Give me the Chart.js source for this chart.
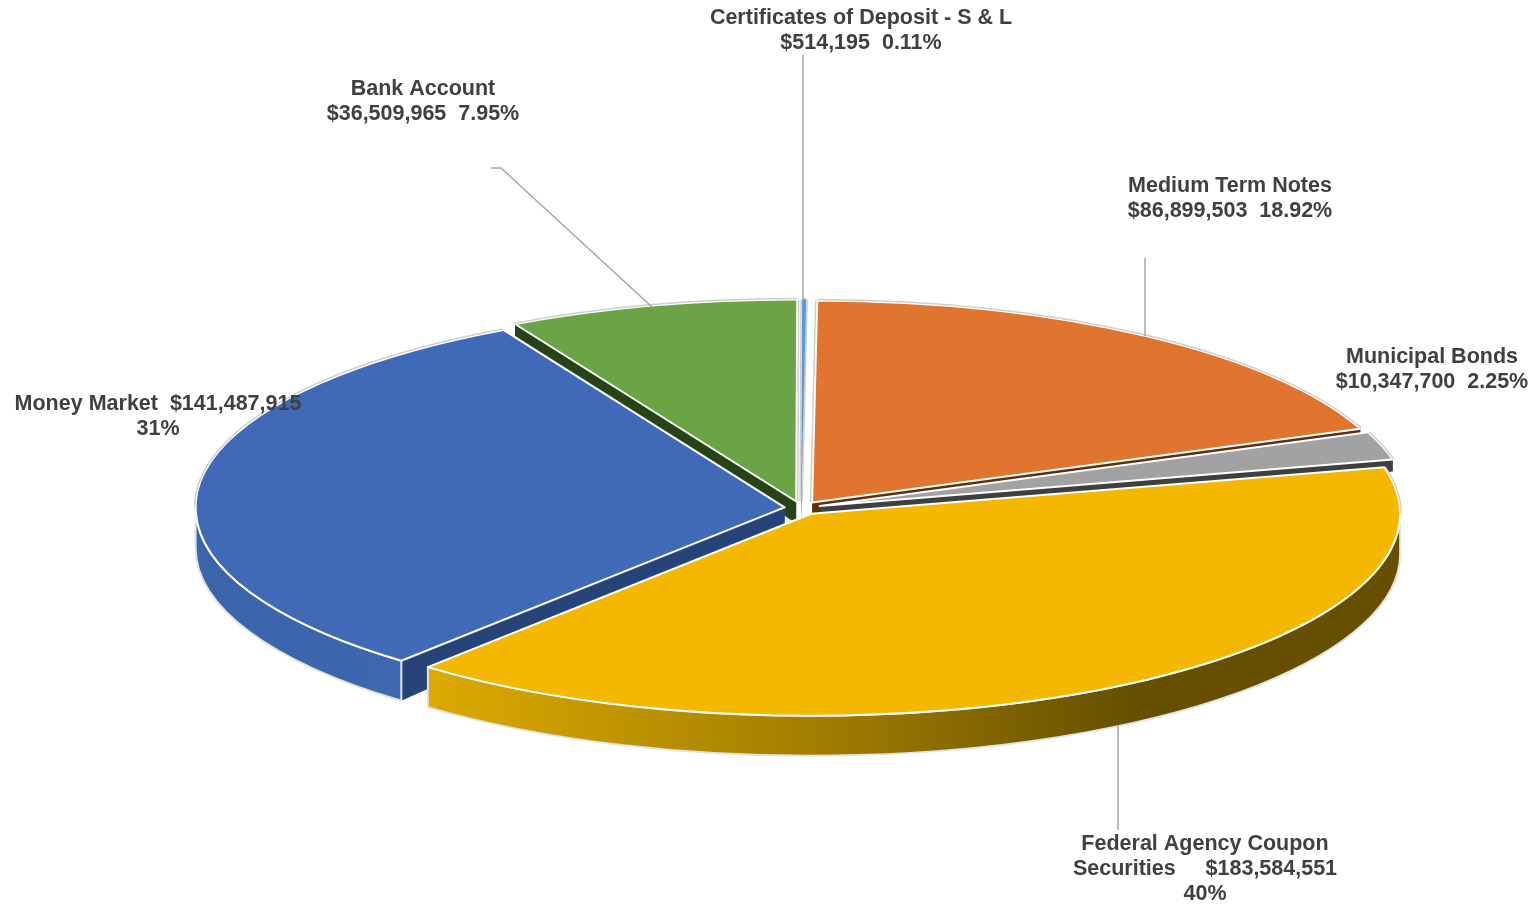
<!DOCTYPE html>
<html>
<head>
<meta charset="utf-8">
<title>Portfolio by type</title>
<script src="https://cdn.jsdelivr.net/npm/chart.js@4"></script>
<style>
    html, body { margin: 0; padding: 0; background: #fff; overflow: hidden; }
    canvas { display: block; }
</style>
</head>
<body>
<canvas id="portfolioChart" width="1536" height="907"></canvas>
<script>
// clockwise from the top of the pie
const categories = ['Medium Term Notes', 'Municipal Bonds', 'Federal Agency Coupon Securities', 'Money Market', 'Bank Account', 'Certificates of Deposit - S & L'];
const amounts = [86899503, 10347700, 183584551, 141487915, 36509965, 514195];
const shares = ['18.92%', '2.25%', '40%', '31%', '7.95%', '0.11%'];

const topColors = ['#E0752F', '#A2A2A2', '#F4B800', '#406AB8', '#6AA444', '#5B9BD5'];
const faceColors = ['#5A2E10', '#3F3F3F', '#665000', '#264478', '#264417', '#2E5F8F'];
const rimStops = {
    2: [[0, '#DCAA00'], [0.4, '#A27E00'], [0.72, '#665000'], [1, '#665000']],
    3: [[0, '#3B65AA'], [1, '#3D67AE']]
};

// order the slices are painted in, back to front
const paintOrder = [5, 4, 0, 1, 3, 2];

const RX = 589;
const RY = 202;
const DEPTH_FRONT = 40;
const DEPTH_BACK = 12;
const DEPTH_APEX = 22;

function money(i) {
    return '$' + amounts[i].toLocaleString('en-US');
}

const labelBlocks = [
    { x: 1230, y: 186, lines: [categories[0], money(0) + '  ' + shares[0]] },
    { x: 1432, y: 357, lines: [categories[1], money(1) + '  ' + shares[1]] },
    { x: 1205, y: 844, lines: ['Federal Agency Coupon', 'Securities     ' + money(2), shares[2]] },
    { x: 158, y: 404, lines: [categories[3] + '  ' + money(3), shares[3]] },
    { x: 423, y: 89, lines: [categories[4], money(4) + '  ' + shares[4]] },
    { x: 861, y: 18, lines: [categories[5], money(5) + '  ' + shares[5]] }
];

const leaderLines = [
    [[803, 55], [803, 301]],
    [[491, 168], [501, 168], [652, 307]],
    [[1145, 258], [1145, 336]],
    [[1118, 725], [1118, 830]]
];

// squashes the flat arcs from the pie controller into a tilted, extruded pie
const tiltedPie = {
    id: 'tiltedPie',
    beforeDatasetsDraw(chart) {
        const ctx = chart.ctx;
        const arcs = chart.getDatasetMeta(0).data;

        paintOrder.forEach(function(i) {
            const arc = arcs[i];
            const R = arc.outerRadius;
            const sx = RX / R;
            const sy = RY / R;
            const mid = (arc.startAngle + arc.endAngle) / 2;
            const cx = arc.x + Math.cos(mid) * arc.options.offset * sx;
            const cy = arc.y + Math.sin(mid) * arc.options.offset * sy;
            const a0 = arc.startAngle;
            const a1 = arc.endAngle;
            const sliver = a1 - a0 < 0.02;

            // the two cut faces
            ctx.fillStyle = faceColors[i];
            [a0, a1].forEach(function(a) {
                const px = cx + Math.cos(a) * RX;
                const py = cy + Math.sin(a) * RY;
                const d = Math.sin(a) >= 0 ? DEPTH_FRONT : DEPTH_BACK;
                ctx.beginPath();
                ctx.moveTo(cx, cy);
                ctx.lineTo(px, py);
                ctx.lineTo(px, py + d);
                ctx.lineTo(cx, cy + DEPTH_APEX);
                ctx.closePath();
                ctx.fill();
            });

            // outer wall, only the part facing the viewer
            const lo = Math.max(a0, 0);
            const hi = Math.min(a1, Math.PI);
            if (lo < hi) {
                const xa = cx + Math.cos(hi) * RX;
                const xb = cx + Math.cos(lo) * RX;
                const grad = ctx.createLinearGradient(xa, 0, xb, 0);
                rimStops[i].forEach(function(s) {
                    grad.addColorStop(s[0], s[1]);
                });
                ctx.beginPath();
                ctx.ellipse(cx, cy, RX, RY, 0, lo, hi);
                ctx.ellipse(cx, cy + DEPTH_FRONT, RX, RY, 0, hi, lo, true);
                ctx.closePath();
                ctx.fillStyle = grad;
                ctx.fill();
                ctx.strokeStyle = '#E2E2E2';
                ctx.lineWidth = 2;
                ctx.stroke();
            }

            // top of the slice
            ctx.beginPath();
            ctx.moveTo(cx, cy);
            ctx.ellipse(cx, cy, RX, RY, 0, a0, a1);
            ctx.closePath();
            ctx.fillStyle = topColors[i];
            ctx.fill();
            if (!sliver) {
                ctx.strokeStyle = '#FFFFFF';
                ctx.lineWidth = 2;
                ctx.lineJoin = 'round';
                ctx.stroke();
            }

            // back edge and near-vertical cuts read grey rather than white
            const bLo = Math.max(a0, -Math.PI);
            const bHi = Math.min(a1, 0);
            const bLo2 = Math.max(a0, Math.PI);
            ctx.strokeStyle = '#CFCFCF';
            ctx.lineWidth = 1.5;
            ctx.beginPath();
            if (bLo < bHi) {
                ctx.ellipse(cx, cy, RX + 1, RY + 1, 0, bLo, bHi);
            } else if (bLo2 < a1) {
                ctx.ellipse(cx, cy, RX + 1, RY + 1, 0, bLo2, a1);
            }
            ctx.stroke();
            [a0, a1].forEach(function(a) {
                if (Math.abs(Math.cos(a)) < 0.05) {
                    const sign = Math.cos(a0 + (a1 - a0) / 2) < Math.cos(a) ? 1 : -1;
                    const nudge = sliver ? (a === a0 ? -1 : 1) : sign * 1.5;
                    ctx.beginPath();
                    ctx.moveTo(cx + nudge, cy);
                    ctx.lineTo(cx + Math.cos(a) * RX + nudge, cy + Math.sin(a) * RY);
                    ctx.stroke();
                }
            });
        });
        return false;
    },
    afterDraw(chart) {
        const ctx = chart.ctx;

        ctx.strokeStyle = '#A6A6A6';
        ctx.lineWidth = 1.5;
        leaderLines.forEach(function(pts) {
            ctx.beginPath();
            pts.forEach(function(p, n) {
                if (n === 0) {
                    ctx.moveTo(p[0], p[1]);
                } else {
                    ctx.lineTo(p[0], p[1]);
                }
            });
            ctx.stroke();
        });

        ctx.font = 'bold 21.5px "Liberation Sans", Arial, sans-serif';
        ctx.fillStyle = '#404040';
        ctx.textAlign = 'center';
        ctx.textBaseline = 'middle';
        labelBlocks.forEach(function(b) {
            b.lines.forEach(function(line, n) {
                ctx.fillText(line, b.x, b.y + n * 25);
            });
        });
    }
};

new Chart(document.getElementById('portfolioChart'), {
    type: 'pie',
    data: {
        labels: categories,
        datasets: [{
            data: amounts,
            backgroundColor: topColors,
            borderWidth: 0,
            offset: [13, 13, 13, 11, 13, 13]
        }]
    },
    options: {
        responsive: false,
        animation: false,
        rotation: 0.5,
        layout: {
            padding: { left: 66, top: 109 }
        },
        plugins: {
            legend: { display: false },
            tooltip: { enabled: false }
        }
    },
    plugins: [tiltedPie]
});
</script>
</body>
</html>
